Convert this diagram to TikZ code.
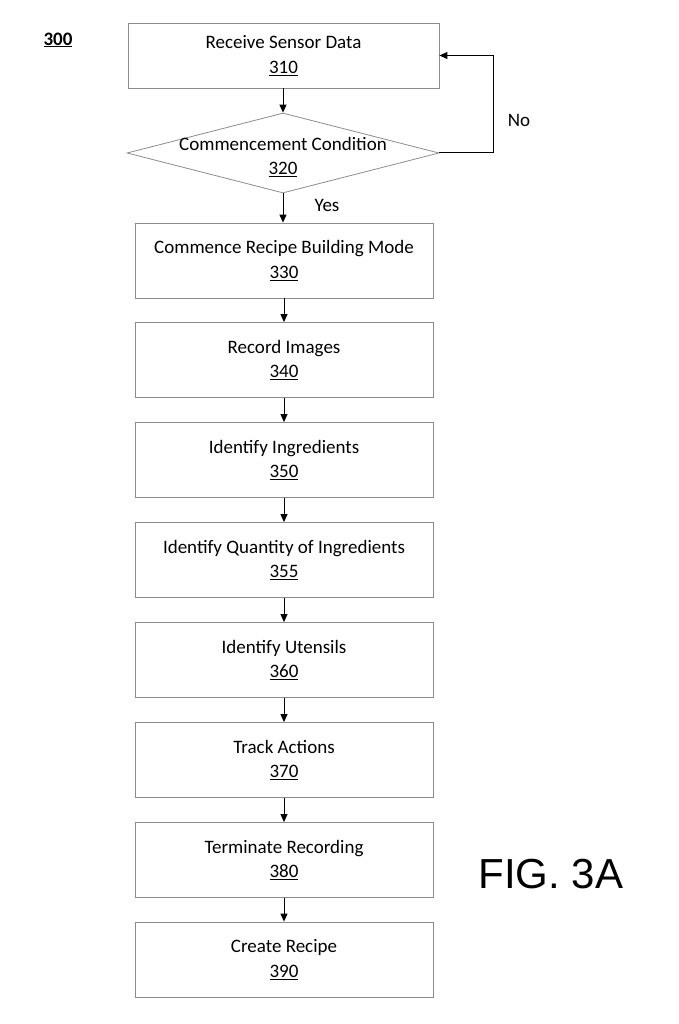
\documentclass[tikz,border=0pt]{standalone}
\usepackage{fontspec}
\setmainfont{Carlito}
\newfontfamily\figfont{Liberation Sans}
\usetikzlibrary{arrows.meta,shapes.geometric}
\begin{document}
\begin{tikzpicture}[x=1pt,y=-1pt,
  stepbox/.style={draw=black!45,line width=0.8pt,minimum width=298pt,minimum height=75pt,align=center,font=\fontsize{19}{24.5}\selectfont,inner sep=0pt},
  conn/.style={line width=1pt,-{Triangle[length=8pt,width=7pt]}},
  lbl/.style={font=\fontsize{19}{22}\selectfont}]
\useasboundingbox (0,0) rectangle (679,1024);
\node[stepbox,minimum width=311pt,minimum height=65pt] (b310) at (283.5,55.5) {Receive Sensor Data\\\underline{310}};
\node[draw=black!45,line width=0.8pt,diamond,aspect=3.9,inner sep=0pt,minimum width=312pt,minimum height=80pt] (b320) at (283,153) {};
\node[align=center,font=\fontsize{19}{24.5}\selectfont] at (283,157) {Commencement Condition\\\underline{320}};
\node[stepbox] (b330) at (284,260.5) {Commence Recipe Building Mode\\\underline{330}};
\node[stepbox] (b340) at (284,360) {Record Images\\\underline{340}};
\node[stepbox] (b350) at (284,460) {Identify Ingredients\\\underline{350}};
\node[stepbox] (b355) at (284,560) {Identify Quantity of Ingredients\\\underline{355}};
\node[stepbox] (b360) at (284,660) {Identify Utensils\\\underline{360}};
\node[stepbox] (b370) at (284,760) {Track Actions\\\underline{370}};
\node[stepbox] (b380) at (284,860) {Terminate Recording\\\underline{380}};
\node[stepbox] (b390) at (284,959.5) {Create Recipe\\\underline{390}};
\draw[conn] (b310.south -| b320.north) -- (b320.north);
\draw[conn] (b320.south) -- (b320.south |- b330.north);
\foreach \a/\b in {b330/b340,b340/b350,b350/b355,b355/b360,b360/b370,b370/b380,b380/b390}
  \draw[conn] (\a.south) -- (\b.north);
\coordinate (loopc) at (493,153);
\draw[conn] (b320.east) -- (loopc) -- (loopc |- b310.east) -- (b310.east);
\node[lbl] (yes) at (327,205) {Yes};
\node[lbl] (no) at (519,120) {No};
\node[font=\bfseries\fontsize{19}{22}\selectfont] (l300) at (58,40) {\underline{300}};
\node[font=\figfont\fontsize{42}{48}\selectfont] (fig) at (551,874) {FIG. 3A};
\end{tikzpicture}
\end{document}
